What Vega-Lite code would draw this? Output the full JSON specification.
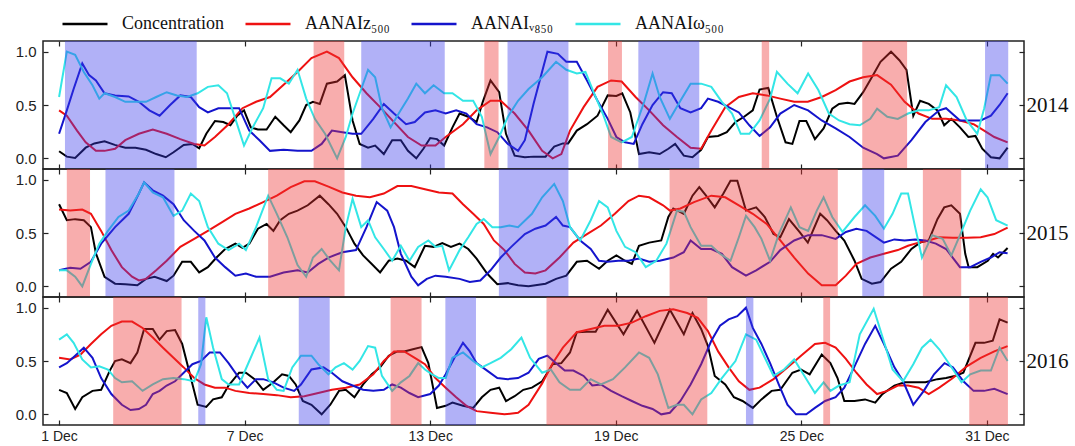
{
"$schema": "https://vega.github.io/schema/vega-lite/v6.json",
"padding": {"left": 14, "top": 0, "right": 0, "bottom": 0},
"background": "white",
"config": {
  "view": {"stroke": "#222", "strokeWidth": 1.5},
  "axis": {"labelFont": "Liberation Sans", "labelFontSize": 15, "labelColor": "#222", "tickColor": "#222", "tickWidth": 1.2, "domain": false, "grid": false, "title": null}
},
"datasets": {
"y14": [
{"s":"A","d":1.00,"v":0.066},{"s":"A","d":1.25,"v":0.016},{"s":"A","d":1.52,"v":0.003},{"s":"A","d":1.86,"v":0.10},{"s":"A","d":2.14,"v":0.14},{"s":"A","d":2.47,"v":0.16},{"s":"A","d":2.80,"v":0.126},{"s":"A","d":3.14,"v":0.10},{"s":"A","d":3.47,"v":0.10},{"s":"A","d":3.81,"v":0.08},{"s":"A","d":4.14,"v":0.04},{"s":"A","d":4.45,"v":0.01},{"s":"A","d":4.70,"v":0.057},{"s":"A","d":5.03,"v":0.126},{"s":"A","d":5.31,"v":0.135},{"s":"A","d":5.53,"v":0.094},{"s":"A","d":5.76,"v":0.23},{"s":"A","d":6.04,"v":0.35},{"s":"A","d":6.31,"v":0.34},{"s":"A","d":6.54,"v":0.31},{"s":"A","d":6.76,"v":0.40},{"s":"A","d":6.98,"v":0.45},{"s":"A","d":7.20,"v":0.29},{"s":"A","d":7.43,"v":0.27},{"s":"A","d":7.71,"v":0.27},{"s":"A","d":7.99,"v":0.39},{"s":"A","d":8.26,"v":0.31},{"s":"A","d":8.49,"v":0.245},{"s":"A","d":8.77,"v":0.355},{"s":"A","d":8.99,"v":0.50},{"s":"A","d":9.21,"v":0.53},{"s":"A","d":9.43,"v":0.51},{"s":"A","d":9.66,"v":0.70},{"s":"A","d":9.99,"v":0.72},{"s":"A","d":10.24,"v":0.78},{"s":"A","d":10.49,"v":0.355},{"s":"A","d":10.72,"v":0.135},{"s":"A","d":10.99,"v":0.10},{"s":"A","d":11.22,"v":0.12},{"s":"A","d":11.50,"v":0.04},{"s":"A","d":11.77,"v":0.17},{"s":"A","d":12.05,"v":0.17},{"s":"A","d":12.28,"v":0.07},{"s":"A","d":12.55,"v":0.0},{"s":"A","d":12.78,"v":0.09},{"s":"A","d":13.00,"v":0.19},{"s":"A","d":13.22,"v":0.18},{"s":"A","d":13.45,"v":0.12},{"s":"A","d":13.72,"v":0.29},{"s":"A","d":13.95,"v":0.42},{"s":"A","d":14.23,"v":0.39},{"s":"A","d":14.50,"v":0.34},{"s":"A","d":14.70,"v":0.53},{"s":"A","d":14.95,"v":0.73},{"s":"A","d":15.23,"v":0.62},{"s":"A","d":15.45,"v":0.23},{"s":"A","d":15.73,"v":0.025},{"s":"A","d":16.06,"v":0.01},{"s":"A","d":16.34,"v":0.016},{"s":"A","d":16.73,"v":0.016},{"s":"A","d":17.01,"v":0.11},{"s":"A","d":17.29,"v":0.14},{"s":"A","d":17.46,"v":0.14},{"s":"A","d":17.74,"v":0.26},{"s":"A","d":18.07,"v":0.32},{"s":"A","d":18.41,"v":0.40},{"s":"A","d":18.74,"v":0.59},{"s":"A","d":19.02,"v":0.585},{"s":"A","d":19.21,"v":0.61},{"s":"A","d":19.47,"v":0.43},{"s":"A","d":19.75,"v":0.04},{"s":"A","d":20.08,"v":0.057},{"s":"A","d":20.42,"v":0.04},{"s":"A","d":20.70,"v":0.09},{"s":"A","d":20.92,"v":0.135},{"s":"A","d":21.20,"v":0.025},{"s":"A","d":21.48,"v":0.01},{"s":"A","d":21.76,"v":0.08},{"s":"A","d":21.98,"v":0.20},{"s":"A","d":22.31,"v":0.21},{"s":"A","d":22.59,"v":0.245},{"s":"A","d":22.87,"v":0.34},{"s":"A","d":23.15,"v":0.39},{"s":"A","d":23.43,"v":0.45},{"s":"A","d":23.65,"v":0.645},{"s":"A","d":23.93,"v":0.66},{"s":"A","d":24.21,"v":0.39},{"s":"A","d":24.49,"v":0.15},{"s":"A","d":24.71,"v":0.135},{"s":"A","d":24.94,"v":0.35},{"s":"A","d":25.16,"v":0.35},{"s":"A","d":25.44,"v":0.18},{"s":"A","d":25.72,"v":0.28},{"s":"A","d":26.00,"v":0.465},{"s":"A","d":26.22,"v":0.51},{"s":"A","d":26.50,"v":0.52},{"s":"A","d":26.72,"v":0.51},{"s":"A","d":27.00,"v":0.62},{"s":"A","d":27.28,"v":0.76},{"s":"A","d":27.56,"v":0.905},{"s":"A","d":27.90,"v":1.0},{"s":"A","d":28.17,"v":0.92},{"s":"A","d":28.40,"v":0.83},{"s":"A","d":28.62,"v":0.40},{"s":"A","d":28.84,"v":0.54},{"s":"A","d":29.12,"v":0.51},{"s":"A","d":29.40,"v":0.45},{"s":"A","d":29.62,"v":0.31},{"s":"A","d":29.85,"v":0.37},{"s":"A","d":30.13,"v":0.29},{"s":"A","d":30.40,"v":0.20},{"s":"A","d":30.63,"v":0.21},{"s":"A","d":30.85,"v":0.09},{"s":"A","d":31.13,"v":0.01},{"s":"A","d":31.41,"v":0.0},{"s":"A","d":31.67,"v":0.10},
{"s":"B","d":1.00,"v":0.45},{"s":"B","d":1.25,"v":0.40},{"s":"B","d":1.58,"v":0.26},{"s":"B","d":1.86,"v":0.15},{"s":"B","d":2.19,"v":0.07},{"s":"B","d":2.47,"v":0.07},{"s":"B","d":2.81,"v":0.09},{"s":"B","d":3.14,"v":0.17},{"s":"B","d":3.58,"v":0.23},{"s":"B","d":4.03,"v":0.27},{"s":"B","d":4.48,"v":0.23},{"s":"B","d":4.92,"v":0.18},{"s":"B","d":5.37,"v":0.135},{"s":"B","d":5.70,"v":0.12},{"s":"B","d":6.04,"v":0.20},{"s":"B","d":6.48,"v":0.32},{"s":"B","d":6.93,"v":0.47},{"s":"B","d":7.37,"v":0.53},{"s":"B","d":7.82,"v":0.575},{"s":"B","d":8.26,"v":0.69},{"s":"B","d":8.71,"v":0.81},{"s":"B","d":9.16,"v":0.94},{"s":"B","d":9.66,"v":1.0},{"s":"B","d":10.05,"v":0.94},{"s":"B","d":10.49,"v":0.76},{"s":"B","d":10.94,"v":0.61},{"s":"B","d":11.38,"v":0.48},{"s":"B","d":11.83,"v":0.34},{"s":"B","d":12.28,"v":0.20},{"s":"B","d":12.72,"v":0.12},{"s":"B","d":13.17,"v":0.12},{"s":"B","d":13.50,"v":0.20},{"s":"B","d":14.06,"v":0.32},{"s":"B","d":14.50,"v":0.45},{"s":"B","d":14.95,"v":0.54},{"s":"B","d":15.28,"v":0.54},{"s":"B","d":15.73,"v":0.42},{"s":"B","d":16.18,"v":0.26},{"s":"B","d":16.62,"v":0.07},{"s":"B","d":16.96,"v":0.0},{"s":"B","d":17.24,"v":0.04},{"s":"B","d":17.52,"v":0.26},{"s":"B","d":17.96,"v":0.48},{"s":"B","d":18.41,"v":0.67},{"s":"B","d":18.85,"v":0.73},{"s":"B","d":19.19,"v":0.72},{"s":"B","d":19.64,"v":0.575},{"s":"B","d":20.08,"v":0.45},{"s":"B","d":20.53,"v":0.31},{"s":"B","d":20.98,"v":0.20},{"s":"B","d":21.42,"v":0.10},{"s":"B","d":21.76,"v":0.09},{"s":"B","d":22.09,"v":0.26},{"s":"B","d":22.54,"v":0.48},{"s":"B","d":22.98,"v":0.575},{"s":"B","d":23.43,"v":0.61},{"s":"B","d":23.88,"v":0.59},{"s":"B","d":24.32,"v":0.56},{"s":"B","d":24.77,"v":0.53},{"s":"B","d":25.21,"v":0.53},{"s":"B","d":25.66,"v":0.575},{"s":"B","d":26.11,"v":0.64},{"s":"B","d":26.56,"v":0.72},{"s":"B","d":27.00,"v":0.76},{"s":"B","d":27.45,"v":0.78},{"s":"B","d":27.90,"v":0.69},{"s":"B","d":28.34,"v":0.53},{"s":"B","d":28.79,"v":0.42},{"s":"B","d":29.23,"v":0.37},{"s":"B","d":29.68,"v":0.37},{"s":"B","d":30.13,"v":0.355},{"s":"B","d":30.57,"v":0.32},{"s":"B","d":30.91,"v":0.26},{"s":"B","d":31.24,"v":0.20},{"s":"B","d":31.67,"v":0.15},
{"s":"C","d":1.00,"v":0.23},{"s":"C","d":1.25,"v":0.45},{"s":"C","d":1.47,"v":0.65},{"s":"C","d":1.75,"v":0.89},{"s":"C","d":1.97,"v":0.78},{"s":"C","d":2.19,"v":0.73},{"s":"C","d":2.47,"v":0.61},{"s":"C","d":2.81,"v":0.59},{"s":"C","d":3.25,"v":0.58},{"s":"C","d":3.58,"v":0.53},{"s":"C","d":3.92,"v":0.45},{"s":"C","d":4.25,"v":0.40},{"s":"C","d":4.59,"v":0.50},{"s":"C","d":4.92,"v":0.59},{"s":"C","d":5.26,"v":0.575},{"s":"C","d":5.53,"v":0.48},{"s":"C","d":5.81,"v":0.43},{"s":"C","d":6.15,"v":0.47},{"s":"C","d":6.48,"v":0.47},{"s":"C","d":6.82,"v":0.47},{"s":"C","d":7.15,"v":0.26},{"s":"C","d":7.48,"v":0.17},{"s":"C","d":7.82,"v":0.07},{"s":"C","d":8.26,"v":0.08},{"s":"C","d":8.71,"v":0.07},{"s":"C","d":9.16,"v":0.07},{"s":"C","d":9.49,"v":0.135},{"s":"C","d":9.82,"v":0.26},{"s":"C","d":10.16,"v":0.245},{"s":"C","d":10.49,"v":0.23},{"s":"C","d":10.77,"v":0.23},{"s":"C","d":11.16,"v":0.37},{"s":"C","d":11.50,"v":0.51},{"s":"C","d":11.83,"v":0.42},{"s":"C","d":12.22,"v":0.32},{"s":"C","d":12.50,"v":0.34},{"s":"C","d":12.83,"v":0.43},{"s":"C","d":13.17,"v":0.45},{"s":"C","d":13.50,"v":0.42},{"s":"C","d":13.84,"v":0.45},{"s":"C","d":14.17,"v":0.42},{"s":"C","d":14.50,"v":0.32},{"s":"C","d":14.84,"v":0.29},{"s":"C","d":15.17,"v":0.245},{"s":"C","d":15.51,"v":0.135},{"s":"C","d":15.84,"v":0.07},{"s":"C","d":16.06,"v":0.17},{"s":"C","d":16.34,"v":0.51},{"s":"C","d":16.79,"v":1.0},{"s":"C","d":17.13,"v":0.98},{"s":"C","d":17.40,"v":0.905},{"s":"C","d":17.74,"v":0.905},{"s":"C","d":18.07,"v":0.73},{"s":"C","d":18.41,"v":0.54},{"s":"C","d":18.74,"v":0.37},{"s":"C","d":19.02,"v":0.20},{"s":"C","d":19.30,"v":0.15},{"s":"C","d":19.58,"v":0.135},{"s":"C","d":19.86,"v":0.32},{"s":"C","d":20.19,"v":0.50},{"s":"C","d":20.53,"v":0.62},{"s":"C","d":20.81,"v":0.61},{"s":"C","d":21.09,"v":0.47},{"s":"C","d":21.42,"v":0.43},{"s":"C","d":21.76,"v":0.47},{"s":"C","d":21.98,"v":0.56},{"s":"C","d":22.31,"v":0.53},{"s":"C","d":22.65,"v":0.48},{"s":"C","d":22.98,"v":0.43},{"s":"C","d":23.32,"v":0.31},{"s":"C","d":23.65,"v":0.21},{"s":"C","d":23.99,"v":0.29},{"s":"C","d":24.32,"v":0.42},{"s":"C","d":24.77,"v":0.50},{"s":"C","d":25.22,"v":0.45},{"s":"C","d":25.66,"v":0.355},{"s":"C","d":26.11,"v":0.28},{"s":"C","d":26.56,"v":0.20},{"s":"C","d":27.00,"v":0.10},{"s":"C","d":27.45,"v":0.04},{"s":"C","d":27.67,"v":0.0},{"s":"C","d":28.12,"v":0.025},{"s":"C","d":28.56,"v":0.17},{"s":"C","d":29.01,"v":0.34},{"s":"C","d":29.46,"v":0.45},{"s":"C","d":29.68,"v":0.47},{"s":"C","d":30.13,"v":0.355},{"s":"C","d":30.57,"v":0.355},{"s":"C","d":30.80,"v":0.355},{"s":"C","d":31.13,"v":0.40},{"s":"C","d":31.41,"v":0.50},{"s":"C","d":31.67,"v":0.61},
{"s":"D","d":1.00,"v":0.575},{"s":"D","d":1.25,"v":1.0},{"s":"D","d":1.52,"v":0.97},{"s":"D","d":1.80,"v":0.81},{"s":"D","d":2.08,"v":0.685},{"s":"D","d":2.30,"v":0.56},{"s":"D","d":2.47,"v":0.61},{"s":"D","d":2.81,"v":0.575},{"s":"D","d":3.14,"v":0.53},{"s":"D","d":3.47,"v":0.53},{"s":"D","d":3.81,"v":0.53},{"s":"D","d":4.14,"v":0.575},{"s":"D","d":4.48,"v":0.62},{"s":"D","d":4.81,"v":0.59},{"s":"D","d":5.14,"v":0.575},{"s":"D","d":5.48,"v":0.61},{"s":"D","d":5.81,"v":0.67},{"s":"D","d":6.15,"v":0.685},{"s":"D","d":6.43,"v":0.61},{"s":"D","d":6.70,"v":0.37},{"s":"D","d":6.98,"v":0.12},{"s":"D","d":7.26,"v":0.29},{"s":"D","d":7.60,"v":0.47},{"s":"D","d":7.87,"v":0.75},{"s":"D","d":8.15,"v":0.75},{"s":"D","d":8.43,"v":0.70},{"s":"D","d":8.71,"v":0.83},{"s":"D","d":8.99,"v":0.56},{"s":"D","d":9.27,"v":0.37},{"s":"D","d":9.60,"v":0.23},{"s":"D","d":9.99,"v":0.0},{"s":"D","d":10.27,"v":0.20},{"s":"D","d":10.49,"v":0.42},{"s":"D","d":10.77,"v":0.65},{"s":"D","d":10.99,"v":0.83},{"s":"D","d":11.22,"v":0.76},{"s":"D","d":11.44,"v":0.47},{"s":"D","d":11.72,"v":0.29},{"s":"D","d":12.00,"v":0.43},{"s":"D","d":12.28,"v":0.56},{"s":"D","d":12.55,"v":0.70},{"s":"D","d":12.83,"v":0.61},{"s":"D","d":13.11,"v":0.685},{"s":"D","d":13.45,"v":0.61},{"s":"D","d":13.72,"v":0.61},{"s":"D","d":14.06,"v":0.54},{"s":"D","d":14.39,"v":0.54},{"s":"D","d":14.67,"v":0.39},{"s":"D","d":14.95,"v":0.04},{"s":"D","d":15.23,"v":0.20},{"s":"D","d":15.51,"v":0.39},{"s":"D","d":15.84,"v":0.54},{"s":"D","d":16.18,"v":0.65},{"s":"D","d":16.62,"v":0.76},{"s":"D","d":17.07,"v":0.905},{"s":"D","d":17.40,"v":0.83},{"s":"D","d":17.74,"v":0.795},{"s":"D","d":18.02,"v":0.81},{"s":"D","d":18.30,"v":0.61},{"s":"D","d":18.58,"v":0.42},{"s":"D","d":18.85,"v":0.20},{"s":"D","d":19.19,"v":0.15},{"s":"D","d":19.52,"v":0.20},{"s":"D","d":19.92,"v":0.53},{"s":"D","d":20.19,"v":0.795},{"s":"D","d":20.42,"v":0.575},{"s":"D","d":20.75,"v":0.37},{"s":"D","d":21.09,"v":0.54},{"s":"D","d":21.42,"v":0.70},{"s":"D","d":21.76,"v":0.70},{"s":"D","d":22.09,"v":0.67},{"s":"D","d":22.43,"v":0.53},{"s":"D","d":22.76,"v":0.42},{"s":"D","d":23.04,"v":0.23},{"s":"D","d":23.32,"v":0.23},{"s":"D","d":23.65,"v":0.355},{"s":"D","d":23.99,"v":0.56},{"s":"D","d":24.21,"v":0.81},{"s":"D","d":24.55,"v":0.70},{"s":"D","d":24.88,"v":0.61},{"s":"D","d":25.22,"v":0.795},{"s":"D","d":25.55,"v":0.64},{"s":"D","d":25.89,"v":0.42},{"s":"D","d":26.22,"v":0.355},{"s":"D","d":26.56,"v":0.32},{"s":"D","d":26.89,"v":0.31},{"s":"D","d":27.23,"v":0.37},{"s":"D","d":27.45,"v":0.465},{"s":"D","d":27.78,"v":0.39},{"s":"D","d":28.12,"v":0.37},{"s":"D","d":28.45,"v":0.42},{"s":"D","d":28.79,"v":0.45},{"s":"D","d":29.12,"v":0.45},{"s":"D","d":29.46,"v":0.48},{"s":"D","d":29.68,"v":0.685},{"s":"D","d":30.02,"v":0.575},{"s":"D","d":30.35,"v":0.355},{"s":"D","d":30.69,"v":0.23},{"s":"D","d":30.91,"v":0.465},{"s":"D","d":31.13,"v":0.78},{"s":"D","d":31.41,"v":0.78},{"s":"D","d":31.67,"v":0.70}
],
"y15": [
{"s":"A","d":1.00,"v":0.77},{"s":"A","d":1.25,"v":0.62},{"s":"A","d":1.52,"v":0.63},{"s":"A","d":1.80,"v":0.62},{"s":"A","d":2.03,"v":0.555},{"s":"A","d":2.19,"v":0.31},{"s":"A","d":2.47,"v":0.09},{"s":"A","d":2.81,"v":0.025},{"s":"A","d":3.14,"v":0.02},{"s":"A","d":3.53,"v":0.01},{"s":"A","d":3.81,"v":0.07},{"s":"A","d":4.09,"v":0.09},{"s":"A","d":4.48,"v":0.05},{"s":"A","d":4.70,"v":0.10},{"s":"A","d":4.98,"v":0.23},{"s":"A","d":5.26,"v":0.23},{"s":"A","d":5.53,"v":0.13},{"s":"A","d":5.81,"v":0.18},{"s":"A","d":6.09,"v":0.27},{"s":"A","d":6.37,"v":0.35},{"s":"A","d":6.70,"v":0.40},{"s":"A","d":6.93,"v":0.36},{"s":"A","d":7.15,"v":0.40},{"s":"A","d":7.43,"v":0.54},{"s":"A","d":7.71,"v":0.585},{"s":"A","d":7.93,"v":0.52},{"s":"A","d":8.15,"v":0.62},{"s":"A","d":8.43,"v":0.68},{"s":"A","d":8.71,"v":0.71},{"s":"A","d":9.04,"v":0.76},{"s":"A","d":9.43,"v":0.85},{"s":"A","d":9.71,"v":0.77},{"s":"A","d":9.99,"v":0.68},{"s":"A","d":10.27,"v":0.555},{"s":"A","d":10.55,"v":0.40},{"s":"A","d":10.83,"v":0.29},{"s":"A","d":11.11,"v":0.21},{"s":"A","d":11.38,"v":0.13},{"s":"A","d":11.66,"v":0.24},{"s":"A","d":11.94,"v":0.26},{"s":"A","d":12.22,"v":0.24},{"s":"A","d":12.50,"v":0.18},{"s":"A","d":12.83,"v":0.38},{"s":"A","d":13.11,"v":0.37},{"s":"A","d":13.39,"v":0.405},{"s":"A","d":13.67,"v":0.37},{"s":"A","d":13.95,"v":0.40},{"s":"A","d":14.23,"v":0.35},{"s":"A","d":14.50,"v":0.26},{"s":"A","d":14.84,"v":0.12},{"s":"A","d":15.17,"v":0.02},{"s":"A","d":15.51,"v":0.03},{"s":"A","d":15.84,"v":0.01},{"s":"A","d":16.18,"v":0.0},{"s":"A","d":16.73,"v":0.025},{"s":"A","d":17.07,"v":0.07},{"s":"A","d":17.40,"v":0.10},{"s":"A","d":17.74,"v":0.23},{"s":"A","d":18.07,"v":0.24},{"s":"A","d":18.46,"v":0.165},{"s":"A","d":18.74,"v":0.24},{"s":"A","d":19.02,"v":0.29},{"s":"A","d":19.30,"v":0.24},{"s":"A","d":19.52,"v":0.21},{"s":"A","d":19.75,"v":0.38},{"s":"A","d":20.08,"v":0.41},{"s":"A","d":20.47,"v":0.43},{"s":"A","d":20.70,"v":0.65},{"s":"A","d":20.86,"v":0.73},{"s":"A","d":21.20,"v":0.68},{"s":"A","d":21.48,"v":0.85},{"s":"A","d":21.70,"v":0.93},{"s":"A","d":21.92,"v":0.85},{"s":"A","d":22.20,"v":0.74},{"s":"A","d":22.48,"v":0.87},{"s":"A","d":22.71,"v":0.99},{"s":"A","d":22.93,"v":0.99},{"s":"A","d":23.21,"v":0.71},{"s":"A","d":23.54,"v":0.74},{"s":"A","d":23.82,"v":0.65},{"s":"A","d":24.10,"v":0.49},{"s":"A","d":24.32,"v":0.46},{"s":"A","d":24.60,"v":0.63},{"s":"A","d":24.94,"v":0.51},{"s":"A","d":25.21,"v":0.41},{"s":"A","d":25.61,"v":0.68},{"s":"A","d":25.83,"v":0.62},{"s":"A","d":26.11,"v":0.52},{"s":"A","d":26.39,"v":0.43},{"s":"A","d":26.72,"v":0.24},{"s":"A","d":26.95,"v":0.07},{"s":"A","d":27.28,"v":0.025},{"s":"A","d":27.56,"v":0.04},{"s":"A","d":27.90,"v":0.165},{"s":"A","d":28.23,"v":0.23},{"s":"A","d":28.56,"v":0.35},{"s":"A","d":28.84,"v":0.41},{"s":"A","d":29.12,"v":0.43},{"s":"A","d":29.40,"v":0.63},{"s":"A","d":29.62,"v":0.74},{"s":"A","d":29.85,"v":0.76},{"s":"A","d":30.13,"v":0.68},{"s":"A","d":30.30,"v":0.305},{"s":"A","d":30.41,"v":0.18},{"s":"A","d":30.69,"v":0.18},{"s":"A","d":31.03,"v":0.24},{"s":"A","d":31.20,"v":0.305},{"s":"A","d":31.36,"v":0.27},{"s":"A","d":31.67,"v":0.36},
{"s":"B","d":1.00,"v":0.72},{"s":"B","d":1.36,"v":0.71},{"s":"B","d":1.75,"v":0.72},{"s":"B","d":2.03,"v":0.68},{"s":"B","d":2.36,"v":0.52},{"s":"B","d":2.69,"v":0.34},{"s":"B","d":3.03,"v":0.18},{"s":"B","d":3.36,"v":0.09},{"s":"B","d":3.58,"v":0.055},{"s":"B","d":3.81,"v":0.07},{"s":"B","d":4.14,"v":0.15},{"s":"B","d":4.48,"v":0.24},{"s":"B","d":4.92,"v":0.37},{"s":"B","d":5.37,"v":0.445},{"s":"B","d":5.81,"v":0.52},{"s":"B","d":6.26,"v":0.60},{"s":"B","d":6.70,"v":0.68},{"s":"B","d":7.15,"v":0.73},{"s":"B","d":7.60,"v":0.79},{"s":"B","d":8.04,"v":0.85},{"s":"B","d":8.49,"v":0.93},{"s":"B","d":8.93,"v":0.985},{"s":"B","d":9.27,"v":0.985},{"s":"B","d":9.71,"v":0.935},{"s":"B","d":10.16,"v":0.88},{"s":"B","d":10.60,"v":0.85},{"s":"B","d":11.05,"v":0.835},{"s":"B","d":11.50,"v":0.87},{"s":"B","d":11.94,"v":0.94},{"s":"B","d":12.39,"v":0.94},{"s":"B","d":12.83,"v":0.91},{"s":"B","d":13.28,"v":0.88},{"s":"B","d":13.72,"v":0.87},{"s":"B","d":14.06,"v":0.77},{"s":"B","d":14.39,"v":0.68},{"s":"B","d":14.73,"v":0.585},{"s":"B","d":15.06,"v":0.43},{"s":"B","d":15.40,"v":0.34},{"s":"B","d":15.73,"v":0.21},{"s":"B","d":16.06,"v":0.13},{"s":"B","d":16.40,"v":0.12},{"s":"B","d":16.73,"v":0.15},{"s":"B","d":17.18,"v":0.27},{"s":"B","d":17.63,"v":0.41},{"s":"B","d":18.07,"v":0.49},{"s":"B","d":18.52,"v":0.57},{"s":"B","d":18.97,"v":0.68},{"s":"B","d":19.41,"v":0.80},{"s":"B","d":19.75,"v":0.85},{"s":"B","d":20.08,"v":0.835},{"s":"B","d":20.53,"v":0.76},{"s":"B","d":20.75,"v":0.71},{"s":"B","d":21.09,"v":0.73},{"s":"B","d":21.53,"v":0.79},{"s":"B","d":22.09,"v":0.85},{"s":"B","d":22.54,"v":0.835},{"s":"B","d":22.98,"v":0.76},{"s":"B","d":23.43,"v":0.68},{"s":"B","d":23.88,"v":0.585},{"s":"B","d":24.32,"v":0.43},{"s":"B","d":24.77,"v":0.27},{"s":"B","d":25.22,"v":0.12},{"s":"B","d":25.66,"v":0.01},{"s":"B","d":26.11,"v":0.01},{"s":"B","d":26.44,"v":0.10},{"s":"B","d":26.78,"v":0.21},{"s":"B","d":27.23,"v":0.27},{"s":"B","d":27.67,"v":0.305},{"s":"B","d":28.12,"v":0.34},{"s":"B","d":28.45,"v":0.38},{"s":"B","d":28.79,"v":0.41},{"s":"B","d":29.12,"v":0.43},{"s":"B","d":29.46,"v":0.46},{"s":"B","d":29.90,"v":0.455},{"s":"B","d":30.35,"v":0.455},{"s":"B","d":30.80,"v":0.46},{"s":"B","d":31.24,"v":0.49},{"s":"B","d":31.67,"v":0.55},
{"s":"C","d":1.00,"v":0.15},{"s":"C","d":1.36,"v":0.175},{"s":"C","d":1.69,"v":0.165},{"s":"C","d":2.03,"v":0.23},{"s":"C","d":2.36,"v":0.40},{"s":"C","d":2.81,"v":0.555},{"s":"C","d":3.25,"v":0.68},{"s":"C","d":3.58,"v":0.87},{"s":"C","d":3.75,"v":0.975},{"s":"C","d":4.03,"v":0.90},{"s":"C","d":4.36,"v":0.85},{"s":"C","d":4.70,"v":0.77},{"s":"C","d":5.03,"v":0.62},{"s":"C","d":5.37,"v":0.52},{"s":"C","d":5.70,"v":0.43},{"s":"C","d":6.04,"v":0.27},{"s":"C","d":6.37,"v":0.18},{"s":"C","d":6.70,"v":0.10},{"s":"C","d":7.04,"v":0.12},{"s":"C","d":7.37,"v":0.09},{"s":"C","d":7.82,"v":0.09},{"s":"C","d":8.26,"v":0.13},{"s":"C","d":8.71,"v":0.15},{"s":"C","d":9.04,"v":0.13},{"s":"C","d":9.38,"v":0.21},{"s":"C","d":9.71,"v":0.27},{"s":"C","d":10.16,"v":0.32},{"s":"C","d":10.60,"v":0.34},{"s":"C","d":10.94,"v":0.555},{"s":"C","d":11.27,"v":0.79},{"s":"C","d":11.61,"v":0.71},{"s":"C","d":11.83,"v":0.555},{"s":"C","d":12.05,"v":0.305},{"s":"C","d":12.39,"v":0.09},{"s":"C","d":12.61,"v":0.01},{"s":"C","d":12.89,"v":0.07},{"s":"C","d":13.17,"v":0.10},{"s":"C","d":13.50,"v":0.09},{"s":"C","d":13.95,"v":0.07},{"s":"C","d":14.28,"v":0.04},{"s":"C","d":14.62,"v":0.055},{"s":"C","d":14.95,"v":0.15},{"s":"C","d":15.28,"v":0.27},{"s":"C","d":15.62,"v":0.37},{"s":"C","d":16.06,"v":0.49},{"s":"C","d":16.40,"v":0.54},{"s":"C","d":16.73,"v":0.57},{"s":"C","d":17.07,"v":0.65},{"s":"C","d":17.29,"v":0.57},{"s":"C","d":17.52,"v":0.555},{"s":"C","d":17.85,"v":0.43},{"s":"C","d":18.19,"v":0.35},{"s":"C","d":18.46,"v":0.24},{"s":"C","d":18.74,"v":0.23},{"s":"C","d":19.08,"v":0.24},{"s":"C","d":19.41,"v":0.24},{"s":"C","d":19.75,"v":0.26},{"s":"C","d":20.08,"v":0.23},{"s":"C","d":20.42,"v":0.24},{"s":"C","d":20.86,"v":0.27},{"s":"C","d":21.20,"v":0.32},{"s":"C","d":21.42,"v":0.43},{"s":"C","d":21.76,"v":0.35},{"s":"C","d":22.09,"v":0.35},{"s":"C","d":22.43,"v":0.305},{"s":"C","d":22.76,"v":0.18},{"s":"C","d":23.21,"v":0.10},{"s":"C","d":23.54,"v":0.15},{"s":"C","d":23.99,"v":0.23},{"s":"C","d":24.32,"v":0.34},{"s":"C","d":24.77,"v":0.43},{"s":"C","d":25.22,"v":0.48},{"s":"C","d":25.66,"v":0.48},{"s":"C","d":26.11,"v":0.445},{"s":"C","d":26.44,"v":0.51},{"s":"C","d":26.78,"v":0.54},{"s":"C","d":27.11,"v":0.52},{"s":"C","d":27.67,"v":0.41},{"s":"C","d":28.01,"v":0.44},{"s":"C","d":28.34,"v":0.43},{"s":"C","d":28.68,"v":0.44},{"s":"C","d":29.01,"v":0.43},{"s":"C","d":29.35,"v":0.40},{"s":"C","d":29.68,"v":0.35},{"s":"C","d":30.13,"v":0.18},{"s":"C","d":30.46,"v":0.18},{"s":"C","d":30.80,"v":0.23},{"s":"C","d":31.13,"v":0.27},{"s":"C","d":31.41,"v":0.32},{"s":"C","d":31.67,"v":0.31},
{"s":"D","d":1.00,"v":0.15},{"s":"D","d":1.25,"v":0.15},{"s":"D","d":1.52,"v":0.09},{"s":"D","d":1.75,"v":0.0},{"s":"D","d":2.03,"v":0.21},{"s":"D","d":2.30,"v":0.40},{"s":"D","d":2.58,"v":0.52},{"s":"D","d":2.92,"v":0.65},{"s":"D","d":3.25,"v":0.71},{"s":"D","d":3.58,"v":0.87},{"s":"D","d":3.75,"v":0.975},{"s":"D","d":4.03,"v":0.88},{"s":"D","d":4.36,"v":0.835},{"s":"D","d":4.70,"v":0.66},{"s":"D","d":4.98,"v":0.71},{"s":"D","d":5.26,"v":0.87},{"s":"D","d":5.53,"v":0.80},{"s":"D","d":5.81,"v":0.555},{"s":"D","d":6.15,"v":0.40},{"s":"D","d":6.48,"v":0.34},{"s":"D","d":6.82,"v":0.40},{"s":"D","d":7.04,"v":0.34},{"s":"D","d":7.37,"v":0.555},{"s":"D","d":7.76,"v":0.85},{"s":"D","d":8.04,"v":0.68},{"s":"D","d":8.38,"v":0.46},{"s":"D","d":8.71,"v":0.20},{"s":"D","d":8.99,"v":0.09},{"s":"D","d":9.21,"v":0.27},{"s":"D","d":9.49,"v":0.35},{"s":"D","d":9.77,"v":0.24},{"s":"D","d":10.05,"v":0.15},{"s":"D","d":10.27,"v":0.555},{"s":"D","d":10.49,"v":0.82},{"s":"D","d":10.77,"v":0.555},{"s":"D","d":10.99,"v":0.62},{"s":"D","d":11.22,"v":0.46},{"s":"D","d":11.50,"v":0.35},{"s":"D","d":11.77,"v":0.24},{"s":"D","d":12.05,"v":0.38},{"s":"D","d":12.33,"v":0.24},{"s":"D","d":12.61,"v":0.37},{"s":"D","d":12.94,"v":0.43},{"s":"D","d":13.17,"v":0.37},{"s":"D","d":13.39,"v":0.38},{"s":"D","d":13.61,"v":0.15},{"s":"D","d":13.95,"v":0.34},{"s":"D","d":14.23,"v":0.46},{"s":"D","d":14.50,"v":0.585},{"s":"D","d":14.73,"v":0.63},{"s":"D","d":15.01,"v":0.555},{"s":"D","d":15.28,"v":0.555},{"s":"D","d":15.56,"v":0.57},{"s":"D","d":15.84,"v":0.555},{"s":"D","d":16.29,"v":0.68},{"s":"D","d":16.62,"v":0.835},{"s":"D","d":17.01,"v":0.96},{"s":"D","d":17.29,"v":0.80},{"s":"D","d":17.52,"v":0.555},{"s":"D","d":17.85,"v":0.43},{"s":"D","d":18.19,"v":0.62},{"s":"D","d":18.46,"v":0.80},{"s":"D","d":18.74,"v":0.74},{"s":"D","d":19.02,"v":0.52},{"s":"D","d":19.30,"v":0.37},{"s":"D","d":19.64,"v":0.32},{"s":"D","d":19.97,"v":0.18},{"s":"D","d":20.31,"v":0.24},{"s":"D","d":20.64,"v":0.40},{"s":"D","d":20.98,"v":0.71},{"s":"D","d":21.20,"v":0.70},{"s":"D","d":21.42,"v":0.555},{"s":"D","d":21.76,"v":0.38},{"s":"D","d":22.09,"v":0.38},{"s":"D","d":22.37,"v":0.305},{"s":"D","d":22.71,"v":0.24},{"s":"D","d":22.98,"v":0.46},{"s":"D","d":23.21,"v":0.66},{"s":"D","d":23.49,"v":0.555},{"s":"D","d":23.71,"v":0.445},{"s":"D","d":23.99,"v":0.24},{"s":"D","d":24.27,"v":0.49},{"s":"D","d":24.66,"v":0.74},{"s":"D","d":24.94,"v":0.555},{"s":"D","d":25.22,"v":0.52},{"s":"D","d":25.50,"v":0.71},{"s":"D","d":25.72,"v":0.835},{"s":"D","d":26.00,"v":0.65},{"s":"D","d":26.33,"v":0.51},{"s":"D","d":26.72,"v":0.65},{"s":"D","d":27.06,"v":0.76},{"s":"D","d":27.39,"v":0.66},{"s":"D","d":27.67,"v":0.54},{"s":"D","d":27.95,"v":0.68},{"s":"D","d":28.23,"v":0.87},{"s":"D","d":28.45,"v":0.87},{"s":"D","d":28.68,"v":0.555},{"s":"D","d":28.90,"v":0.27},{"s":"D","d":29.23,"v":0.48},{"s":"D","d":29.57,"v":0.445},{"s":"D","d":29.85,"v":0.29},{"s":"D","d":30.13,"v":0.48},{"s":"D","d":30.46,"v":0.71},{"s":"D","d":30.80,"v":0.91},{"s":"D","d":31.02,"v":0.835},{"s":"D","d":31.30,"v":0.62},{"s":"D","d":31.67,"v":0.57}
],
"y16": [
{"s":"A","d":1.00,"v":0.23},{"s":"A","d":1.25,"v":0.20},{"s":"A","d":1.52,"v":0.05},{"s":"A","d":1.75,"v":0.16},{"s":"A","d":2.08,"v":0.22},{"s":"A","d":2.36,"v":0.23},{"s":"A","d":2.64,"v":0.41},{"s":"A","d":2.81,"v":0.50},{"s":"A","d":3.03,"v":0.515},{"s":"A","d":3.31,"v":0.48},{"s":"A","d":3.53,"v":0.58},{"s":"A","d":3.75,"v":0.80},{"s":"A","d":4.03,"v":0.80},{"s":"A","d":4.25,"v":0.70},{"s":"A","d":4.48,"v":0.78},{"s":"A","d":4.75,"v":0.79},{"s":"A","d":4.98,"v":0.66},{"s":"A","d":5.20,"v":0.41},{"s":"A","d":5.48,"v":0.09},{"s":"A","d":5.76,"v":0.07},{"s":"A","d":5.98,"v":0.14},{"s":"A","d":6.26,"v":0.16},{"s":"A","d":6.48,"v":0.27},{"s":"A","d":6.82,"v":0.39},{"s":"A","d":7.04,"v":0.39},{"s":"A","d":7.32,"v":0.33},{"s":"A","d":7.60,"v":0.23},{"s":"A","d":7.93,"v":0.30},{"s":"A","d":8.21,"v":0.375},{"s":"A","d":8.43,"v":0.36},{"s":"A","d":8.65,"v":0.28},{"s":"A","d":8.88,"v":0.125},{"s":"A","d":9.16,"v":0.09},{"s":"A","d":9.49,"v":0.0},{"s":"A","d":9.77,"v":0.09},{"s":"A","d":10.05,"v":0.22},{"s":"A","d":10.27,"v":0.23},{"s":"A","d":10.55,"v":0.16},{"s":"A","d":10.83,"v":0.28},{"s":"A","d":11.11,"v":0.375},{"s":"A","d":11.38,"v":0.44},{"s":"A","d":11.66,"v":0.55},{"s":"A","d":11.94,"v":0.59},{"s":"A","d":12.16,"v":0.59},{"s":"A","d":12.44,"v":0.61},{"s":"A","d":12.72,"v":0.63},{"s":"A","d":12.94,"v":0.48},{"s":"A","d":13.22,"v":0.06},{"s":"A","d":13.50,"v":0.08},{"s":"A","d":13.72,"v":0.11},{"s":"A","d":14.06,"v":0.08},{"s":"A","d":14.39,"v":0.06},{"s":"A","d":14.67,"v":0.16},{"s":"A","d":14.95,"v":0.23},{"s":"A","d":15.23,"v":0.25},{"s":"A","d":15.45,"v":0.125},{"s":"A","d":15.73,"v":0.17},{"s":"A","d":16.01,"v":0.23},{"s":"A","d":16.29,"v":0.25},{"s":"A","d":16.62,"v":0.31},{"s":"A","d":16.96,"v":0.47},{"s":"A","d":17.24,"v":0.48},{"s":"A","d":17.52,"v":0.58},{"s":"A","d":17.74,"v":0.77},{"s":"A","d":18.07,"v":0.775},{"s":"A","d":18.35,"v":0.775},{"s":"A","d":18.74,"v":0.98},{"s":"A","d":19.25,"v":0.75},{"s":"A","d":19.69,"v":0.97},{"s":"A","d":20.25,"v":0.67},{"s":"A","d":20.75,"v":0.98},{"s":"A","d":21.20,"v":0.75},{"s":"A","d":21.48,"v":0.95},{"s":"A","d":21.76,"v":0.80},{"s":"A","d":21.98,"v":0.64},{"s":"A","d":22.20,"v":0.36},{"s":"A","d":22.54,"v":0.28},{"s":"A","d":22.82,"v":0.16},{"s":"A","d":23.10,"v":0.125},{"s":"A","d":23.43,"v":0.06},{"s":"A","d":23.71,"v":0.14},{"s":"A","d":24.04,"v":0.22},{"s":"A","d":24.32,"v":0.23},{"s":"A","d":24.71,"v":0.39},{"s":"A","d":24.99,"v":0.42},{"s":"A","d":25.27,"v":0.375},{"s":"A","d":25.66,"v":0.56},{"s":"A","d":25.94,"v":0.48},{"s":"A","d":26.17,"v":0.34},{"s":"A","d":26.39,"v":0.125},{"s":"A","d":26.72,"v":0.125},{"s":"A","d":27.06,"v":0.14},{"s":"A","d":27.39,"v":0.11},{"s":"A","d":27.62,"v":0.19},{"s":"A","d":28.01,"v":0.27},{"s":"A","d":28.34,"v":0.30},{"s":"A","d":28.68,"v":0.30},{"s":"A","d":29.01,"v":0.30},{"s":"A","d":29.40,"v":0.33},{"s":"A","d":29.68,"v":0.34},{"s":"A","d":29.96,"v":0.36},{"s":"A","d":30.24,"v":0.39},{"s":"A","d":30.63,"v":0.67},{"s":"A","d":30.91,"v":0.67},{"s":"A","d":31.19,"v":0.69},{"s":"A","d":31.41,"v":0.89},{"s":"A","d":31.67,"v":0.86},
{"s":"B","d":1.00,"v":0.53},{"s":"B","d":1.36,"v":0.515},{"s":"B","d":1.69,"v":0.56},{"s":"B","d":2.03,"v":0.66},{"s":"B","d":2.36,"v":0.75},{"s":"B","d":2.69,"v":0.83},{"s":"B","d":3.03,"v":0.87},{"s":"B","d":3.36,"v":0.87},{"s":"B","d":3.70,"v":0.81},{"s":"B","d":4.03,"v":0.72},{"s":"B","d":4.36,"v":0.625},{"s":"B","d":4.70,"v":0.53},{"s":"B","d":5.03,"v":0.44},{"s":"B","d":5.37,"v":0.34},{"s":"B","d":5.70,"v":0.28},{"s":"B","d":6.04,"v":0.25},{"s":"B","d":6.37,"v":0.25},{"s":"B","d":6.70,"v":0.22},{"s":"B","d":7.15,"v":0.20},{"s":"B","d":7.60,"v":0.19},{"s":"B","d":8.04,"v":0.18},{"s":"B","d":8.49,"v":0.16},{"s":"B","d":8.93,"v":0.17},{"s":"B","d":9.38,"v":0.20},{"s":"B","d":9.82,"v":0.23},{"s":"B","d":10.27,"v":0.25},{"s":"B","d":10.72,"v":0.28},{"s":"B","d":11.16,"v":0.375},{"s":"B","d":11.50,"v":0.50},{"s":"B","d":11.83,"v":0.59},{"s":"B","d":12.16,"v":0.59},{"s":"B","d":12.50,"v":0.53},{"s":"B","d":12.83,"v":0.47},{"s":"B","d":13.17,"v":0.34},{"s":"B","d":13.50,"v":0.25},{"s":"B","d":13.84,"v":0.16},{"s":"B","d":14.17,"v":0.08},{"s":"B","d":14.50,"v":0.03},{"s":"B","d":14.95,"v":0.015},{"s":"B","d":15.40,"v":0.0},{"s":"B","d":15.84,"v":0.015},{"s":"B","d":16.18,"v":0.09},{"s":"B","d":16.62,"v":0.29},{"s":"B","d":16.96,"v":0.48},{"s":"B","d":17.29,"v":0.625},{"s":"B","d":17.74,"v":0.77},{"s":"B","d":18.19,"v":0.80},{"s":"B","d":18.63,"v":0.83},{"s":"B","d":19.08,"v":0.83},{"s":"B","d":19.52,"v":0.86},{"s":"B","d":19.97,"v":0.92},{"s":"B","d":20.42,"v":0.97},{"s":"B","d":20.86,"v":0.985},{"s":"B","d":21.31,"v":0.95},{"s":"B","d":21.65,"v":0.905},{"s":"B","d":21.98,"v":0.78},{"s":"B","d":22.31,"v":0.59},{"s":"B","d":22.65,"v":0.44},{"s":"B","d":22.98,"v":0.31},{"s":"B","d":23.32,"v":0.23},{"s":"B","d":23.65,"v":0.25},{"s":"B","d":24.10,"v":0.33},{"s":"B","d":24.55,"v":0.44},{"s":"B","d":24.99,"v":0.55},{"s":"B","d":25.44,"v":0.66},{"s":"B","d":25.77,"v":0.67},{"s":"B","d":26.11,"v":0.625},{"s":"B","d":26.44,"v":0.52},{"s":"B","d":26.78,"v":0.39},{"s":"B","d":27.11,"v":0.28},{"s":"B","d":27.45,"v":0.19},{"s":"B","d":27.78,"v":0.22},{"s":"B","d":28.12,"v":0.27},{"s":"B","d":28.45,"v":0.27},{"s":"B","d":28.79,"v":0.25},{"s":"B","d":29.12,"v":0.19},{"s":"B","d":29.46,"v":0.25},{"s":"B","d":29.90,"v":0.34},{"s":"B","d":30.35,"v":0.45},{"s":"B","d":30.80,"v":0.53},{"s":"B","d":31.24,"v":0.59},{"s":"B","d":31.67,"v":0.64},
{"s":"C","d":1.00,"v":0.44},{"s":"C","d":1.25,"v":0.48},{"s":"C","d":1.52,"v":0.55},{"s":"C","d":1.80,"v":0.625},{"s":"C","d":2.08,"v":0.53},{"s":"C","d":2.36,"v":0.34},{"s":"C","d":2.69,"v":0.19},{"s":"C","d":3.03,"v":0.09},{"s":"C","d":3.31,"v":0.04},{"s":"C","d":3.58,"v":0.05},{"s":"C","d":3.81,"v":0.09},{"s":"C","d":4.03,"v":0.19},{"s":"C","d":4.25,"v":0.22},{"s":"C","d":4.48,"v":0.27},{"s":"C","d":4.75,"v":0.31},{"s":"C","d":5.03,"v":0.39},{"s":"C","d":5.31,"v":0.47},{"s":"C","d":5.59,"v":0.50},{"s":"C","d":5.87,"v":0.58},{"s":"C","d":6.20,"v":0.58},{"s":"C","d":6.48,"v":0.48},{"s":"C","d":6.82,"v":0.34},{"s":"C","d":7.09,"v":0.25},{"s":"C","d":7.37,"v":0.33},{"s":"C","d":7.60,"v":0.33},{"s":"C","d":7.93,"v":0.30},{"s":"C","d":8.26,"v":0.25},{"s":"C","d":8.60,"v":0.22},{"s":"C","d":8.82,"v":0.28},{"s":"C","d":9.16,"v":0.42},{"s":"C","d":9.55,"v":0.44},{"s":"C","d":9.82,"v":0.39},{"s":"C","d":10.16,"v":0.31},{"s":"C","d":10.49,"v":0.27},{"s":"C","d":10.83,"v":0.23},{"s":"C","d":11.16,"v":0.22},{"s":"C","d":11.50,"v":0.23},{"s":"C","d":11.77,"v":0.28},{"s":"C","d":12.05,"v":0.25},{"s":"C","d":12.33,"v":0.20},{"s":"C","d":12.61,"v":0.16},{"s":"C","d":13.00,"v":0.19},{"s":"C","d":13.28,"v":0.27},{"s":"C","d":13.50,"v":0.375},{"s":"C","d":13.84,"v":0.56},{"s":"C","d":14.06,"v":0.67},{"s":"C","d":14.28,"v":0.59},{"s":"C","d":14.50,"v":0.48},{"s":"C","d":14.84,"v":0.41},{"s":"C","d":15.17,"v":0.34},{"s":"C","d":15.51,"v":0.33},{"s":"C","d":15.84,"v":0.34},{"s":"C","d":16.18,"v":0.39},{"s":"C","d":16.51,"v":0.52},{"s":"C","d":16.79,"v":0.55},{"s":"C","d":17.07,"v":0.48},{"s":"C","d":17.35,"v":0.41},{"s":"C","d":17.63,"v":0.41},{"s":"C","d":17.96,"v":0.36},{"s":"C","d":18.24,"v":0.27},{"s":"C","d":18.52,"v":0.28},{"s":"C","d":18.85,"v":0.22},{"s":"C","d":19.19,"v":0.17},{"s":"C","d":19.52,"v":0.125},{"s":"C","d":19.86,"v":0.08},{"s":"C","d":20.19,"v":0.05},{"s":"C","d":20.47,"v":0.0},{"s":"C","d":20.75,"v":0.015},{"s":"C","d":21.09,"v":0.125},{"s":"C","d":21.42,"v":0.28},{"s":"C","d":21.76,"v":0.47},{"s":"C","d":22.09,"v":0.69},{"s":"C","d":22.37,"v":0.83},{"s":"C","d":22.65,"v":0.89},{"s":"C","d":22.93,"v":0.92},{"s":"C","d":23.21,"v":1.0},{"s":"C","d":23.43,"v":0.81},{"s":"C","d":23.71,"v":0.66},{"s":"C","d":23.99,"v":0.48},{"s":"C","d":24.27,"v":0.28},{"s":"C","d":24.55,"v":0.09},{"s":"C","d":24.83,"v":0.0},{"s":"C","d":25.16,"v":0.0},{"s":"C","d":25.44,"v":0.06},{"s":"C","d":25.77,"v":0.125},{"s":"C","d":26.11,"v":0.16},{"s":"C","d":26.39,"v":0.25},{"s":"C","d":26.72,"v":0.45},{"s":"C","d":27.06,"v":0.66},{"s":"C","d":27.39,"v":0.83},{"s":"C","d":27.67,"v":0.66},{"s":"C","d":28.01,"v":0.44},{"s":"C","d":28.29,"v":0.31},{"s":"C","d":28.62,"v":0.09},{"s":"C","d":28.96,"v":0.22},{"s":"C","d":29.29,"v":0.375},{"s":"C","d":29.63,"v":0.48},{"s":"C","d":29.90,"v":0.44},{"s":"C","d":30.24,"v":0.31},{"s":"C","d":30.57,"v":0.22},{"s":"C","d":30.91,"v":0.22},{"s":"C","d":31.24,"v":0.24},{"s":"C","d":31.67,"v":0.19},
{"s":"D","d":1.00,"v":0.70},{"s":"D","d":1.25,"v":0.75},{"s":"D","d":1.47,"v":0.67},{"s":"D","d":1.75,"v":0.515},{"s":"D","d":2.03,"v":0.44},{"s":"D","d":2.30,"v":0.45},{"s":"D","d":2.58,"v":0.42},{"s":"D","d":2.81,"v":0.34},{"s":"D","d":3.03,"v":0.30},{"s":"D","d":3.36,"v":0.31},{"s":"D","d":3.70,"v":0.22},{"s":"D","d":4.03,"v":0.28},{"s":"D","d":4.36,"v":0.33},{"s":"D","d":4.70,"v":0.34},{"s":"D","d":5.03,"v":0.33},{"s":"D","d":5.37,"v":0.31},{"s":"D","d":5.59,"v":0.47},{"s":"D","d":5.76,"v":0.91},{"s":"D","d":5.98,"v":0.625},{"s":"D","d":6.26,"v":0.33},{"s":"D","d":6.48,"v":0.28},{"s":"D","d":6.82,"v":0.28},{"s":"D","d":7.15,"v":0.50},{"s":"D","d":7.48,"v":0.72},{"s":"D","d":7.76,"v":0.33},{"s":"D","d":8.04,"v":0.23},{"s":"D","d":8.26,"v":0.22},{"s":"D","d":8.54,"v":0.44},{"s":"D","d":8.82,"v":0.55},{"s":"D","d":9.16,"v":0.55},{"s":"D","d":9.38,"v":0.47},{"s":"D","d":9.71,"v":0.375},{"s":"D","d":9.94,"v":0.44},{"s":"D","d":10.21,"v":0.48},{"s":"D","d":10.49,"v":0.42},{"s":"D","d":10.72,"v":0.50},{"s":"D","d":10.99,"v":0.64},{"s":"D","d":11.22,"v":0.625},{"s":"D","d":11.44,"v":0.36},{"s":"D","d":11.77,"v":0.22},{"s":"D","d":12.05,"v":0.30},{"s":"D","d":12.33,"v":0.36},{"s":"D","d":12.61,"v":0.48},{"s":"D","d":12.83,"v":0.42},{"s":"D","d":13.06,"v":0.375},{"s":"D","d":13.28,"v":0.34},{"s":"D","d":13.50,"v":0.34},{"s":"D","d":13.72,"v":0.53},{"s":"D","d":14.06,"v":0.58},{"s":"D","d":14.39,"v":0.50},{"s":"D","d":14.67,"v":0.44},{"s":"D","d":14.95,"v":0.48},{"s":"D","d":15.28,"v":0.53},{"s":"D","d":15.62,"v":0.61},{"s":"D","d":15.95,"v":0.72},{"s":"D","d":16.23,"v":0.53},{"s":"D","d":16.62,"v":0.39},{"s":"D","d":16.90,"v":0.42},{"s":"D","d":17.18,"v":0.30},{"s":"D","d":17.52,"v":0.23},{"s":"D","d":17.85,"v":0.23},{"s":"D","d":18.19,"v":0.33},{"s":"D","d":18.52,"v":0.28},{"s":"D","d":18.91,"v":0.33},{"s":"D","d":19.30,"v":0.44},{"s":"D","d":19.75,"v":0.58},{"s":"D","d":20.08,"v":0.53},{"s":"D","d":20.36,"v":0.375},{"s":"D","d":20.70,"v":0.06},{"s":"D","d":20.98,"v":0.09},{"s":"D","d":21.20,"v":0.09},{"s":"D","d":21.48,"v":0.0},{"s":"D","d":21.76,"v":0.14},{"s":"D","d":22.09,"v":0.20},{"s":"D","d":22.43,"v":0.34},{"s":"D","d":22.87,"v":0.50},{"s":"D","d":23.21,"v":0.75},{"s":"D","d":23.54,"v":0.70},{"s":"D","d":23.82,"v":0.53},{"s":"D","d":24.10,"v":0.36},{"s":"D","d":24.44,"v":0.42},{"s":"D","d":24.77,"v":0.515},{"s":"D","d":25.10,"v":0.36},{"s":"D","d":25.44,"v":0.20},{"s":"D","d":25.72,"v":0.30},{"s":"D","d":25.94,"v":0.22},{"s":"D","d":26.22,"v":0.27},{"s":"D","d":26.56,"v":0.30},{"s":"D","d":26.89,"v":0.75},{"s":"D","d":27.34,"v":0.99},{"s":"D","d":27.62,"v":0.73},{"s":"D","d":27.95,"v":0.42},{"s":"D","d":28.29,"v":0.31},{"s":"D","d":28.62,"v":0.47},{"s":"D","d":28.90,"v":0.625},{"s":"D","d":29.18,"v":0.70},{"s":"D","d":29.46,"v":0.61},{"s":"D","d":29.79,"v":0.47},{"s":"D","d":30.18,"v":0.30},{"s":"D","d":30.46,"v":0.375},{"s":"D","d":30.80,"v":0.41},{"s":"D","d":31.13,"v":0.41},{"s":"D","d":31.41,"v":0.625},{"s":"D","d":31.67,"v":0.50}
],
"h14": [{"t":"B","a":1.19,"b":5.45},{"t":"R","a":9.23,"b":10.22},{"t":"B","a":10.77,"b":13.47},{"t":"R","a":14.75,"b":15.21},{"t":"B","a":15.5,"b":17.47},{"t":"R","a":18.75,"b":19.2},{"t":"B","a":19.73,"b":21.7},{"t":"R","a":23.72,"b":23.96},{"t":"R","a":26.97,"b":28.42},{"t":"B","a":30.94,"b":31.69}],
"h15": [{"t":"R","a":1.25,"b":2.0},{"t":"B","a":2.5,"b":4.73},{"t":"R","a":7.76,"b":10.23},{"t":"B","a":15.22,"b":17.47},{"t":"R","a":20.74,"b":26.18},{"t":"B","a":26.97,"b":27.68},{"t":"R","a":28.93,"b":30.17}],
"h16": [{"t":"R","a":2.75,"b":4.96},{"t":"B","a":5.5,"b":5.73},{"t":"B","a":8.75,"b":9.75},{"t":"R","a":11.72,"b":12.72},{"t":"B","a":13.49,"b":14.48},{"t":"R","a":16.76,"b":21.96},{"t":"B","a":23.21,"b":23.45},{"t":"R","a":25.71,"b":25.93},{"t":"R","a":30.43,"b":31.68}]
},
"spacing": 0,
"bounds": "flush",
"resolve": {"scale": {"stroke": "shared"}, "legend": {"stroke": "shared"}},
"vconcat": [
{
 "width": 981, "height": 128,
 "layer": [
  {"data": {"name": "y14"}, "mark": {"type": "line", "strokeWidth": 2},
   "encoding": {
    "x": {"field": "d", "type": "quantitative", "scale": {"domain": [0.48, 32.2], "nice": false, "zero": false}, "axis": {"orient": "bottom", "values": [1,7,13,19,25,31], "labels": false, "tickSize": -5}},
    "y": {"field": "v", "type": "quantitative", "scale": {"domain": [-0.1, 1.1], "nice": false, "zero": false}, "axis": {"orient": "left", "values": [0, 0.5, 1], "format": ".1f", "tickSize": -5, "labelPadding": 12}},
    "stroke": {"field": "s", "type": "nominal", "scale": {"domain": ["A","B","C","D"], "range": ["#000000","#ee1111","#1414cc","#33e6e6"]},
     "legend": {"title": null, "orient": "none", "direction": "horizontal", "legendX": 18, "legendY": -41, "symbolType": "stroke", "symbolSize": 2025, "symbolStrokeWidth": 2.5, "labelFont": "Liberation Serif", "labelFontSize": 18, "labelColor": "#111", "columnPadding": 16, "labelOffset": 13, "labelExpr": "datum.label == 'A' ? 'Concentration' : datum.label == 'B' ? 'AANAIᴢ₅₀₀' : datum.label == 'C' ? 'AANAIᵥ₈₅₀' : 'AANAIω₅₀₀'"}}
   }},
  {"data": {"name": "h14"}, "mark": {"type": "rect", "opacity": 0.4},
   "encoding": {
    "x": {"field": "a", "type": "quantitative", "axis": {"orient": "top", "values": [1,7,13,19,25,31], "labels": false, "tickSize": -5}},
    "x2": {"field": "b"},
    "y": {"datum": -0.1, "type": "quantitative", "axis": {"orient": "right", "values": [0, 0.5, 1], "tickSize": -5, "labelPadding": 7, "labelFont": "Liberation Serif", "labelFontSize": 21, "labelColor": "#111", "labelExpr": "datum.value == 0.5 ? '2014' : ''"}},
    "y2": {"datum": 1.1},
    "fill": {"field": "t", "type": "nominal", "scale": {"domain": ["R","B"], "range": ["#ee3333","#3b3bec"]}, "legend": null}
   }}
 ],
 "resolve": {"axis": {"x": "independent", "y": "independent"}}
},
{
 "width": 981, "height": 128,
 "layer": [
  {"data": {"name": "y15"}, "mark": {"type": "line", "strokeWidth": 2},
   "encoding": {
    "x": {"field": "d", "type": "quantitative", "scale": {"domain": [0.48, 32.2], "nice": false, "zero": false}, "axis": {"orient": "bottom", "values": [1,7,13,19,25,31], "labels": false, "tickSize": -5}},
    "y": {"field": "v", "type": "quantitative", "scale": {"domain": [-0.1, 1.1], "nice": false, "zero": false}, "axis": {"orient": "left", "values": [0, 0.5, 1], "format": ".1f", "tickSize": -5, "labelPadding": 12}},
    "stroke": {"field": "s", "type": "nominal", "scale": {"domain": ["A","B","C","D"], "range": ["#000000","#ee1111","#1414cc","#33e6e6"]},
     "legend": {"title": null, "orient": "none", "direction": "horizontal", "legendX": 18, "legendY": -41, "symbolType": "stroke", "symbolSize": 2025, "symbolStrokeWidth": 2.5, "labelFont": "Liberation Serif", "labelFontSize": 18, "labelColor": "#111", "columnPadding": 16, "labelOffset": 13, "labelExpr": "datum.label == 'A' ? 'Concentration' : datum.label == 'B' ? 'AANAIᴢ₅₀₀' : datum.label == 'C' ? 'AANAIᵥ₈₅₀' : 'AANAIω₅₀₀'"}}
   }},
  {"data": {"name": "h15"}, "mark": {"type": "rect", "opacity": 0.4},
   "encoding": {
    "x": {"field": "a", "type": "quantitative", "axis": {"orient": "top", "values": [1,7,13,19,25,31], "labels": false, "tickSize": -5}},
    "x2": {"field": "b"},
    "y": {"datum": -0.1, "type": "quantitative", "axis": {"orient": "right", "values": [0, 0.5, 1], "tickSize": -5, "labelPadding": 7, "labelFont": "Liberation Serif", "labelFontSize": 21, "labelColor": "#111", "labelExpr": "datum.value == 0.5 ? '2015' : ''"}},
    "y2": {"datum": 1.1},
    "fill": {"field": "t", "type": "nominal", "scale": {"domain": ["R","B"], "range": ["#ee3333","#3b3bec"]}, "legend": null}
   }}
 ],
 "resolve": {"axis": {"x": "independent", "y": "independent"}}
},
{
 "width": 981, "height": 128,
 "layer": [
  {"data": {"name": "y16"}, "mark": {"type": "line", "strokeWidth": 2},
   "encoding": {
    "x": {"field": "d", "type": "quantitative", "scale": {"domain": [0.48, 32.2], "nice": false, "zero": false}, "axis": {"orient": "bottom", "values": [1,7,13,19,25,31], "labelExpr": "datum.value + ' Dec'", "labelFontSize": 14, "tickSize": -5, "labelPadding": 9}},
    "y": {"field": "v", "type": "quantitative", "scale": {"domain": [-0.1, 1.1], "nice": false, "zero": false}, "axis": {"orient": "left", "values": [0, 0.5, 1], "format": ".1f", "tickSize": -5, "labelPadding": 12}},
    "stroke": {"field": "s", "type": "nominal", "scale": {"domain": ["A","B","C","D"], "range": ["#000000","#ee1111","#1414cc","#33e6e6"]},
     "legend": {"title": null, "orient": "none", "direction": "horizontal", "legendX": 18, "legendY": -41, "symbolType": "stroke", "symbolSize": 2025, "symbolStrokeWidth": 2.5, "labelFont": "Liberation Serif", "labelFontSize": 18, "labelColor": "#111", "columnPadding": 16, "labelOffset": 13, "labelExpr": "datum.label == 'A' ? 'Concentration' : datum.label == 'B' ? 'AANAIᴢ₅₀₀' : datum.label == 'C' ? 'AANAIᵥ₈₅₀' : 'AANAIω₅₀₀'"}}
   }},
  {"data": {"name": "h16"}, "mark": {"type": "rect", "opacity": 0.4},
   "encoding": {
    "x": {"field": "a", "type": "quantitative", "axis": {"orient": "top", "values": [1,7,13,19,25,31], "labels": false, "tickSize": -5}},
    "x2": {"field": "b"},
    "y": {"datum": -0.1, "type": "quantitative", "axis": {"orient": "right", "values": [0, 0.5, 1], "tickSize": -5, "labelPadding": 7, "labelFont": "Liberation Serif", "labelFontSize": 21, "labelColor": "#111", "labelExpr": "datum.value == 0.5 ? '2016' : ''"}},
    "y2": {"datum": 1.1},
    "fill": {"field": "t", "type": "nominal", "scale": {"domain": ["R","B"], "range": ["#ee3333","#3b3bec"]}, "legend": null}
   }}
 ],
 "resolve": {"axis": {"x": "independent", "y": "independent"}}
}
]
}
